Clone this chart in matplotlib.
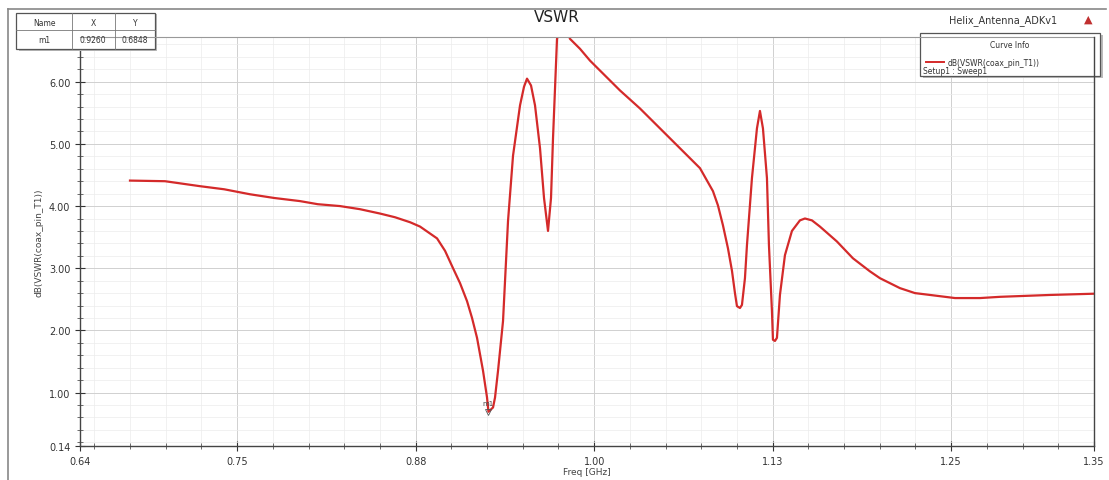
import numpy as np
import matplotlib.pyplot as plt
from matplotlib.patches import Rectangle
from matplotlib.ticker import MultipleLocator

# curve
freq = [0.675, 0.6995, 0.724, 0.741, 0.759, 0.776, 0.794, 0.8065, 0.822, 0.836,
        0.850, 0.8606, 0.8711, 0.8781, 0.890, 0.8956, 0.9012, 0.9061, 0.911, 0.9145,
        0.918, 0.9222, 0.925, 0.926, 0.9292, 0.9306, 0.9327, 0.9362, 0.9397, 0.9432,
        0.9481, 0.9509, 0.953, 0.9558, 0.9586, 0.9621, 0.9649, 0.9677, 0.9698, 0.9712,
        0.9726, 0.974, 0.9782, 0.9831, 0.9901, 0.9971, 1.0041, 1.0111, 1.0181, 1.0321,
        1.0461, 1.0601, 1.0741, 1.0832, 1.0867, 1.0902, 1.0937, 1.0965, 1.0986, 1.100,
        1.1021, 1.1035, 1.1056, 1.107, 1.1105, 1.1126, 1.114, 1.1161, 1.1182, 1.121,
        1.1224, 1.1245, 1.1252, 1.1266, 1.128, 1.1301, 1.1336, 1.1385, 1.1441, 1.1476,
        1.1525, 1.1581, 1.170, 1.1812, 1.1931, 1.2001, 1.2141, 1.2246, 1.2352, 1.2527,
        1.2702, 1.2842, 1.3192, 1.350]
vswr = [4.41, 4.40, 4.32, 4.27, 4.19, 4.13, 4.08, 4.03, 4.00, 3.95,
        3.88, 3.82, 3.74, 3.67, 3.48, 3.28, 3.00, 2.76, 2.47, 2.20,
        1.88, 1.35, 0.92, 0.69, 0.76, 0.92, 1.35, 2.15, 3.76, 4.81,
        5.62, 5.92, 6.05, 5.94, 5.62, 4.93, 4.13, 3.60, 4.13, 5.09,
        5.89, 6.69, 7.00, 6.69, 6.53, 6.34, 6.18, 6.02, 5.86, 5.57,
        5.25, 4.93, 4.61, 4.24, 4.01, 3.69, 3.32, 2.96, 2.60, 2.39,
        2.36, 2.41, 2.84, 3.37, 4.45, 4.93, 5.25, 5.53, 5.25, 4.45,
        3.37, 2.31, 1.85, 1.83, 1.88, 2.57, 3.21, 3.60, 3.77, 3.80,
        3.77, 3.67, 3.43, 3.16, 2.95, 2.84, 2.68, 2.60, 2.57, 2.52,
        2.52, 2.54, 2.57, 2.59]

x_ticks = [0.64, 0.75, 0.875, 1.0, 1.125, 1.25, 1.35]
x_labels = ['0.64', '0.75', '0.88', '1.00', '1.13', '1.25', '1.35']
y_ticks = [0.14, 1, 2, 3, 4, 5, 6]
y_labels = ['0.14', '1.00', '2.00', '3.00', '4.00', '5.00', '6.00']

m1_x = 0.9260
m1_y = 0.6848

W, H = 1109, 481
fig = plt.figure(figsize=(W/100, H/100), dpi=100)
ax = fig.add_axes([80/W, 34/H, (1094-80)/W, (447-38)/H])

ax.plot(freq, vswr, color='#d42a2a', lw=1.6, solid_joinstyle='round')
ax.set_xlim(0.64, 1.35)
ax.set_ylim(0.14, 6.72)

ax.set_xticks(x_ticks)
ax.set_xticklabels(x_labels)
ax.set_yticks(y_ticks)
ax.set_yticklabels(y_labels)
ax.xaxis.set_minor_locator(MultipleLocator(0.025))
ax.yaxis.set_minor_locator(MultipleLocator(0.2))
ax.tick_params(axis='both', which='major', direction='inout', length=7,
               labelsize=7, colors='#333333', width=0.8)
ax.tick_params(axis='both', which='minor', direction='inout', length=4,
               width=0.6, colors='#555555')
ax.grid(True, which='major', color='#d0d0d0', lw=0.7)
ax.grid(True, which='minor', color='#ececec', lw=0.5)
ax.set_axisbelow(True)

for s in ['top', 'right']:
    ax.spines[s].set_visible(False)
ax.spines['left'].set_color('#444444')
ax.spines['bottom'].set_color('#444444')
ax.spines['left'].set_linewidth(1.0)
ax.spines['bottom'].set_linewidth(1.0)

ax.set_xlabel('Freq [GHz]', fontsize=6.5, color='#444444', labelpad=1)
ax.set_ylabel('dB(VSWR(coax_pin_T1))', fontsize=6.5, color='#444444', labelpad=4)

# marker
ax.plot([m1_x], [m1_y], marker='v', ms=4, color='#555555', mfc='none', mew=0.6)
ax.text(m1_x, m1_y + 0.12, 'm1', fontsize=5, color='#444444', ha='center')

# outer frame, title
fig.add_artist(plt.Line2D([8/W, 1106/W], [1-10/H, 1-10/H], color='#888888', lw=1.2))
fig.add_artist(plt.Line2D([8/W, 8/W], [0, 1-10/H], color='#888888', lw=1.2))
fig.add_artist(plt.Line2D([80/W, 1094/W], [1-38/H, 1-38/H], color='#999999', lw=0.8))
fig.add_artist(plt.Line2D([1094/W, 1094/W], [34/H, 1-38/H], color='#444444', lw=1.0))
fig.text(557/W, 1-18/H, 'VSWR', fontsize=11, ha='center', va='center', color='#222222')
fig.text(1003/W, 1-21/H, 'Helix_Antenna_ADKv1', fontsize=7, ha='center', va='center', color='#333333')
fig.text(1088/W, 1-20/H, '▲', fontsize=8, ha='center', va='center', color='#c03030')

# marker table
fig.add_artist(Rectangle((19/W, 1-52/H), 138/W, 37/H, fc='#bbbbbb', ec='none'))
fig.add_artist(Rectangle((16/W, 1-50/H), 139/W, 36/H, fc='white', ec='#555555', lw=0.9))
fig.add_artist(plt.Line2D([16/W, 155/W], [1-31/H, 1-31/H], color='#777777', lw=0.6))
for cx in [72, 115]:
    fig.add_artist(plt.Line2D([cx/W, cx/W], [1-50/H, 1-14/H], color='#777777', lw=0.6))
for cx, t1, t2 in [(44, 'Name', 'm1'), (93, 'X', '%.4f' % m1_x), (135, 'Y', '%.4f' % m1_y)]:
    fig.text(cx/W, 1-23/H, t1, fontsize=5.5, ha='center', va='center', color='#333333')
    fig.text(cx/W, 1-41/H, t2, fontsize=5.5, ha='center', va='center', color='#333333')

# curve info box
fig.add_artist(Rectangle((923/W, 1-79/H), 180/W, 43/H, fc='#bbbbbb', ec='none'))
fig.add_artist(Rectangle((920/W, 1-77/H), 180/W, 43/H, fc='white', ec='#555555', lw=0.9))
fig.text(1010/W, 1-46/H, 'Curve Info', fontsize=5.5, ha='center', va='center', color='#333333')
fig.add_artist(plt.Line2D([926/W, 944/W], [1-63/H, 1-63/H], color='#d42a2a', lw=1.4))
fig.text(948/W, 1-63/H, 'dB(VSWR(coax_pin_T1))', fontsize=5.5, ha='left', va='center', color='#333333')
fig.text(923/W, 1-72/H, 'Setup1 : Sweep1', fontsize=5.5, ha='left', va='center', color='#333333')

fig.savefig('out.png', dpi=100)
